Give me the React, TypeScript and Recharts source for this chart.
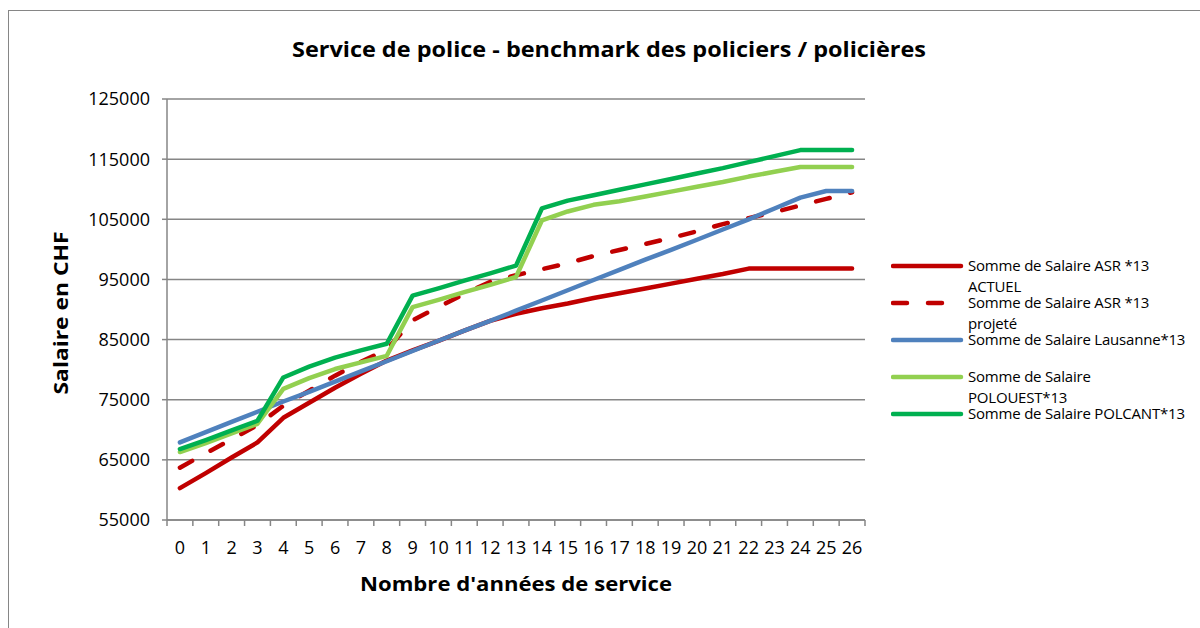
import React from 'react'
import { LineChart, Line, XAxis, YAxis, CartesianGrid, Legend } from 'recharts'

// années de service
const years = [0, 1, 2, 3, 4, 5, 6, 7, 8, 9, 10, 11, 12, 13, 14, 15, 16, 17, 18, 19, 20, 21, 22, 23, 24, 25, 26]

const asrActuel = [
  60300, 62800, 65400, 67900, 72000, 74500, 77000, 79300, 81500, 83200, 84800, 86500, 88100, 89300,
  90200, 91000, 91900, 92700, 93500, 94300, 95100, 95900, 96800, 96800, 96800, 96800, 96800
]
const asrProjete = [
  63700, 66100, 68400, 70800, 74000, 76500, 79000, 81300, 83300, 88200, 90400, 92600, 94600, 95700,
  96700, 97700, 98900, 99900, 100900, 101900, 103000, 104200, 105200, 106200, 107300, 108400, 109500
]
const lausanne = [
  67900, 69600, 71300, 73000, 74700, 76300, 78000, 79700, 81400, 83100, 84800, 86500, 88100, 89800,
  91500, 93200, 94900, 96600, 98300, 99900, 101600, 103300, 105000, 106800, 108600, 109700, 109700
]
const polouest = [
  66300, 67800, 69400, 71000, 76800, 78600, 80100, 81200, 82300, 90400, 91600, 92900, 94100, 95400,
  104800, 106300, 107400, 108000, 108800, 109600, 110400, 111200, 112100, 112900, 113700, 113700, 113700
]
const polcant = [
  66800, 68300, 69900, 71500, 78700, 80500, 82000, 83200, 84300, 92300, 93500, 94800, 96000, 97300,
  106800, 108100, 109000, 109900, 110800, 111700, 112600, 113500, 114500, 115500, 116500, 116500, 116500
]

const yTicks = [55000, 65000, 75000, 85000, 95000, 105000, 115000, 125000]

const seriesNames = [
  'Somme de Salaire ASR *13 ACTUEL',
  'Somme de Salaire ASR *13 projeté',
  'Somme de Salaire Lausanne*13',
  'Somme de Salaire POLOUEST*13',
  'Somme de Salaire POLCANT*13'
]
// how the legend wraps the names
const legendLines = [
  ['Somme de Salaire ASR *13', 'ACTUEL'],
  ['Somme de Salaire ASR *13', 'projeté'],
  ['Somme de Salaire Lausanne*13'],
  ['Somme de Salaire', 'POLOUEST*13'],
  ['Somme de Salaire POLCANT*13']
]
const colors = ['#C00000', '#C00000', '#4F81BD', '#92D050', '#00B050']
const dashes = [undefined, '14 21', undefined, undefined, undefined]
const keys = ['asrActuel', 'asrProjete', 'lausanne', 'polouest', 'polcant']

const data = years.map((year, i) => ({
  year,
  asrActuel: asrActuel[i],
  asrProjete: asrProjete[i],
  lausanne: lausanne[i],
  polouest: polouest[i],
  polcant: polcant[i]
}))

// tick marks sit between the categories, labels on them
const xTicks = [...years.map((y) => y - 0.5), years[years.length - 1] + 0.5, ...years]

const FONT = '"Open Sans", sans-serif'
const GREY = '#868686'
const X_TICK_SIZE = 6
const X_TICK_MARGIN = 15

const XTick = (props: any) => {
  const { x, y, payload } = props
  const v = payload.value
  if (Number.isInteger(v)) {
    return (
      <text x={x} y={y} dy="0.71em" textAnchor="middle" fontSize={18} fontFamily={FONT} fill="#000">
        {v}
      </text>
    )
  }
  const axisY = y - X_TICK_SIZE - X_TICK_MARGIN
  return <line x1={x} x2={x} y1={axisY} y2={axisY + X_TICK_SIZE} stroke={GREY} strokeWidth={1.5} />
}

const XTitle = (props: any) => {
  const { x, y, width } = props.viewBox
  return (
    <text x={x + width / 2} y={y + 71} textAnchor="middle" fontSize={20} fontWeight="bold"
      fontFamily={FONT} fill="#000" textLength={312} lengthAdjust="spacingAndGlyphs">
      Nombre d'années de service
    </text>
  )
}

const YTitle = () => (
  <text x={0} y={0} transform="translate(68, 313) rotate(-90)" textAnchor="middle" fontSize={20}
    fontWeight="bold" fontFamily={FONT} fill="#000" textLength={163} lengthAdjust="spacingAndGlyphs">
    Salaire en CHF
  </text>
)

const renderLegend = () => (
  <svg width={307} height={180}>
    {legendLines.map((lines, i) => {
      const cy = 16 + i * 37
      return (
        <g key={i}>
          <line x1={2} x2={70} y1={cy} y2={cy} stroke={colors[i]} strokeWidth={4.5}
            strokeLinecap="round" strokeDasharray={dashes[i]} />
          {lines.map((t, j) => (
            <text key={j} x={77} y={cy + j * 21} dy="0.36em" fontSize={15} letterSpacing={-0.2}
              fontFamily={FONT} fill="#000">
              {t}
            </text>
          ))}
        </g>
      )
    })}
  </svg>
)

export default function App() {
  return (
    <div style={{ position: 'absolute', left: 0, top: 0, width: 1200, height: 628, background: '#fff', fontFamily: FONT }}>
      <div style={{ position: 'absolute', left: 8, top: 10, right: 0, bottom: 0, borderLeft: `1.5px solid ${GREY}`, borderTop: `1.5px solid ${GREY}` }} />
      <svg style={{ position: 'absolute', left: 0, top: 0 }} width={1200} height={90}>
        <text x={609} y={57} textAnchor="middle" fontSize={21} fontWeight="bold" fontFamily={FONT}
          fill="#000" textLength={634} lengthAdjust="spacingAndGlyphs">
          Service de police - benchmark des policiers / policières
        </text>
      </svg>
      <LineChart width={1200} height={628} data={data} margin={{ top: 99, right: 335, bottom: 0, left: 0 }}>
        <CartesianGrid vertical={false} stroke={GREY} strokeWidth={1.5} />
        <XAxis dataKey="year" type="number" domain={[-0.5, 26.5]} ticks={xTicks} interval={0}
          height={108} tick={<XTick />} tickLine={false} tickSize={X_TICK_SIZE} tickMargin={X_TICK_MARGIN}
          axisLine={{ stroke: GREY, strokeWidth: 1.5 }} label={XTitle} />
        <YAxis type="number" domain={[55000, 125000]} ticks={yTicks} interval={0} width={167}
          tickSize={5} tickMargin={12} tick={{ fontSize: 18, fill: '#000', fontFamily: FONT }}
          tickLine={{ stroke: GREY, strokeWidth: 1.5 }} axisLine={{ stroke: GREY, strokeWidth: 1.5 }}
          label={YTitle} />
        {keys.map((k, i) => (
          <Line key={k} dataKey={k} name={seriesNames[i]} stroke={colors[i]} strokeWidth={4.5}
            strokeDasharray={dashes[i]} strokeLinecap="round" strokeLinejoin="round"
            dot={false} activeDot={false} isAnimationActive={false} />
        ))}
        <Legend layout="horizontal" verticalAlign="middle" align="center" content={renderLegend}
          wrapperStyle={{ left: 891, top: 250, width: 307, height: 180 }} />
      </LineChart>
    </div>
  )
}
